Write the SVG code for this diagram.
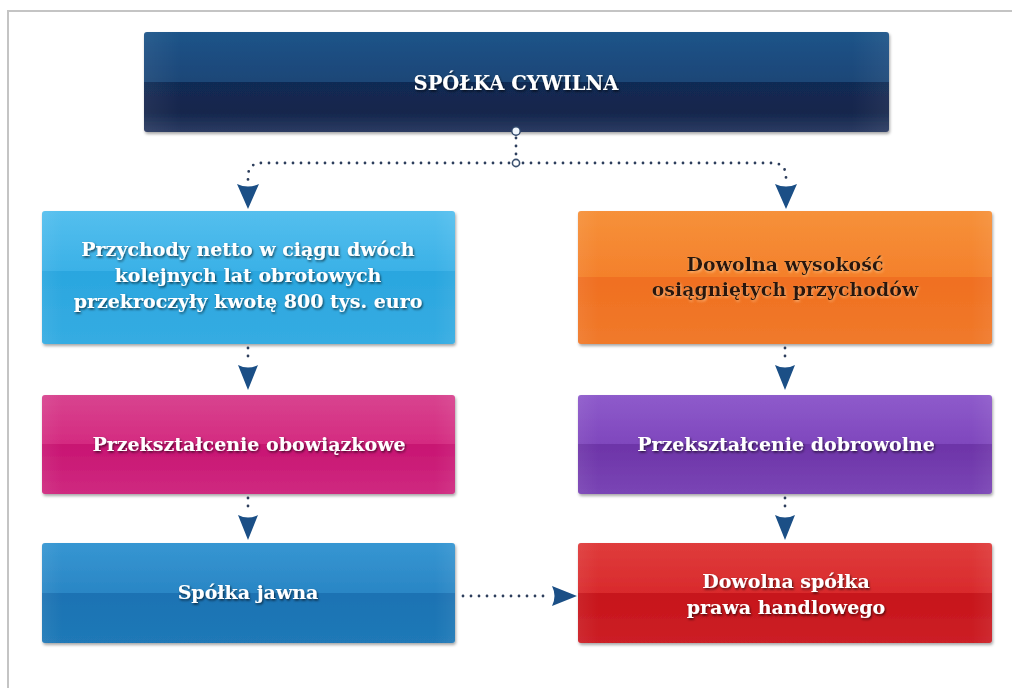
<svg xmlns="http://www.w3.org/2000/svg" width="1012" height="688" viewBox="0 0 1012 688">
<style>
.box{filter:url(#bs)}
.t{font-family:"DejaVu Serif","Liberation Serif",serif;font-weight:bold;font-size:19px;text-anchor:middle;fill:#ffffff;filter:url(#ts)}
.td{fill:#2a1808;filter:url(#tsl)}
.dot{fill:none;stroke:#2d3e5c;stroke-width:2.8;stroke-linecap:round;stroke-dasharray:0 8}
.ah{fill:#1b4f86}
</style>
<defs>
<filter id="bs" x="-5%" y="-10%" width="110%" height="125%"><feDropShadow dx="1" dy="2" stdDeviation="1.8" flood-color="#000" flood-opacity="0.35"/></filter>
<filter id="ts" x="-5%" y="-30%" width="110%" height="160%"><feDropShadow dx="1" dy="1.5" stdDeviation="1" flood-color="#000" flood-opacity="0.65"/></filter>
<filter id="tsl" x="-5%" y="-30%" width="110%" height="160%"><feDropShadow dx="1" dy="1.5" stdDeviation="1" flood-color="#ffd2a0" flood-opacity="0.6"/></filter>
<linearGradient id="gNavy" x1="0" y1="0" x2="0" y2="1"><stop offset="0" stop-color="#1f5489"/><stop offset=".5" stop-color="#1b4677"/><stop offset=".5" stop-color="#112a54"/><stop offset=".8" stop-color="#13264c"/><stop offset="1" stop-color="#2c3b62"/></linearGradient>
<linearGradient id="gLBlue" x1="0" y1="0" x2="0" y2="1"><stop offset="0" stop-color="#55bfee"/><stop offset=".45" stop-color="#3ab1e7"/><stop offset=".45" stop-color="#2aa6df"/><stop offset="1" stop-color="#35ace2"/></linearGradient>
<linearGradient id="gOrange" x1="0" y1="0" x2="0" y2="1"><stop offset="0" stop-color="#f6913a"/><stop offset=".5" stop-color="#f4802b"/><stop offset=".5" stop-color="#f06f20"/><stop offset="1" stop-color="#f07a2b"/></linearGradient>
<linearGradient id="gPink" x1="0" y1="0" x2="0" y2="1"><stop offset="0" stop-color="#d8448f"/><stop offset=".5" stop-color="#d42a80"/><stop offset=".5" stop-color="#c81472"/><stop offset="1" stop-color="#cf2a80"/></linearGradient>
<linearGradient id="gPurple" x1="0" y1="0" x2="0" y2="1"><stop offset="0" stop-color="#8e5bcb"/><stop offset=".5" stop-color="#7f47bd"/><stop offset=".5" stop-color="#6d34a8"/><stop offset="1" stop-color="#7a45b5"/></linearGradient>
<linearGradient id="gBlue" x1="0" y1="0" x2="0" y2="1"><stop offset="0" stop-color="#3696d2"/><stop offset=".5" stop-color="#2a86c5"/><stop offset=".5" stop-color="#1a72b3"/><stop offset="1" stop-color="#2079b7"/></linearGradient>
<linearGradient id="gRed" x1="0" y1="0" x2="0" y2="1"><stop offset="0" stop-color="#df3c3c"/><stop offset=".5" stop-color="#d92a2c"/><stop offset=".5" stop-color="#c7131a"/><stop offset="1" stop-color="#cc2026"/></linearGradient>
<linearGradient id="gEdge" x1="0" y1="0" x2="1" y2="0"><stop offset="0" stop-color="#fff" stop-opacity=".06"/><stop offset=".05" stop-color="#fff" stop-opacity="0"/><stop offset=".95" stop-color="#fff" stop-opacity="0"/><stop offset="1" stop-color="#fff" stop-opacity=".06"/></linearGradient>
</defs>
<rect width="1012" height="688" fill="#ffffff"/>
<path d="M8,688 V11 H1012" fill="none" stroke="#c4c4c4" stroke-width="2"/>

<g id="n-spolka-cywilna">
<rect class="box" x="144" y="32" width="745" height="100" rx="3" fill="url(#gNavy)"/>
<rect x="144" y="32" width="745" height="100" rx="3" fill="url(#gEdge)"/>
<text class="t" x="516" y="90" style="font-size:19.5px">SPÓŁKA CYWILNA</text>
</g>

<g id="n-przychody">
<rect class="box" x="42" y="211" width="413" height="133" rx="3" fill="url(#gLBlue)"/>
<rect x="42" y="211" width="413" height="133" rx="3" fill="url(#gEdge)"/>
<text class="t" x="248" y="256">Przychody netto w ciągu dwóch</text>
<text class="t" x="248" y="282">kolejnych lat obrotowych</text>
<text class="t" x="248" y="308">przekroczyły kwotę 800 tys. euro</text>
</g>

<g id="n-dowolna-wysokosc">
<rect class="box" x="578" y="211" width="414" height="133" rx="3" fill="url(#gOrange)"/>
<rect x="578" y="211" width="414" height="133" rx="3" fill="url(#gEdge)"/>
<text class="t td" x="785" y="271">Dowolna wysokość</text>
<text class="t td" x="785" y="296">osiągniętych przychodów</text>
</g>

<g id="n-obowiazkowe">
<rect class="box" x="42" y="395" width="413" height="99" rx="3" fill="url(#gPink)"/>
<rect x="42" y="395" width="413" height="99" rx="3" fill="url(#gEdge)"/>
<text class="t" x="249" y="451">Przekształcenie obowiązkowe</text>
</g>

<g id="n-dobrowolne">
<rect class="box" x="578" y="395" width="414" height="99" rx="3" fill="url(#gPurple)"/>
<rect x="578" y="395" width="414" height="99" rx="3" fill="url(#gEdge)"/>
<text class="t" x="786" y="451">Przekształcenie dobrowolne</text>
</g>

<g id="n-spolka-jawna">
<rect class="box" x="42" y="543" width="413" height="100" rx="3" fill="url(#gBlue)"/>
<rect x="42" y="543" width="413" height="100" rx="3" fill="url(#gEdge)"/>
<text class="t" x="248" y="599">Spółka jawna</text>
</g>

<g id="n-dowolna-spolka">
<rect class="box" x="578" y="543" width="414" height="100" rx="3" fill="url(#gRed)"/>
<rect x="578" y="543" width="414" height="100" rx="3" fill="url(#gEdge)"/>
<text class="t" x="786" y="588">Dowolna spółka</text>
<text class="t" x="786" y="614">prawa handlowego</text>
</g>

<g id="connectors">
<path class="dot" d="M516,138 V158"/>
<path class="dot" d="M509,163 H262 Q248,163 248,177 V182"/>
<path class="dot" d="M523,163 H772 Q786,163 786,177 V182"/>
<circle cx="516" cy="131" r="4.2" fill="#eef4fb" stroke="#2d4468" stroke-width="1.4"/>
<circle cx="516" cy="163" r="3.6" fill="#ffffff" stroke="#3d5270" stroke-width="1.6"/>
<path class="ah" d="M237,184 Q248,189 259,184 L248,209 Z"/>
<path class="ah" d="M775,184 Q786,189 797,184 L786,209 Z"/>
<path class="dot" d="M248,348 V362"/>
<path class="ah" d="M238,365 Q248,370 258,365 L248,390 Z"/>
<path class="dot" d="M785,348 V362"/>
<path class="ah" d="M775,365 Q785,370 795,365 L785,390 Z"/>
<path class="dot" d="M248,498 V512"/>
<path class="ah" d="M238,515 Q248,520 258,515 L248,540 Z"/>
<path class="dot" d="M785,498 V512"/>
<path class="ah" d="M775,515 Q785,520 795,515 L785,540 Z"/>
<path class="dot" d="M463,596 H548"/>
<path class="ah" d="M552,586 Q557,596 552,606 L577,596 Z"/>
</g>
</svg>
